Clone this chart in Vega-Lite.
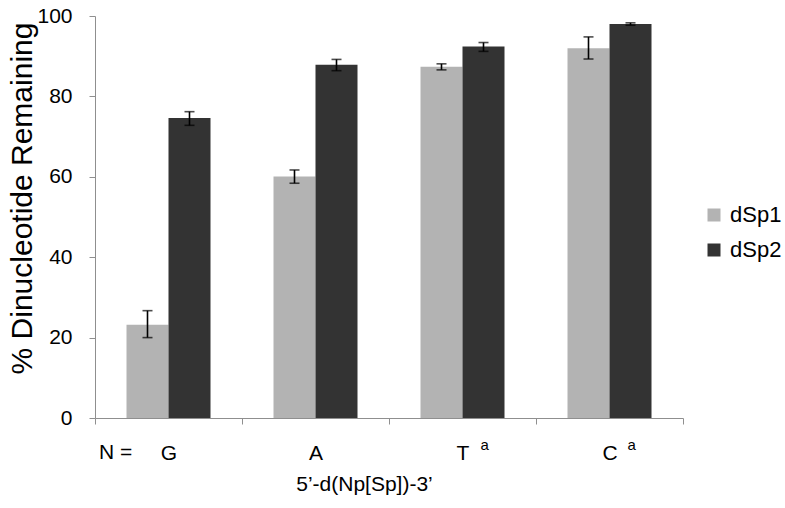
{
  "$schema": "https://vega.github.io/schema/vega-lite/v6.json",
  "width": 588,
  "height": 402,
  "autosize": {"type": "none"},
  "padding": {"left": 95, "top": 16, "right": 102, "bottom": 90},
  "background": "white",
  "config": {
    "font": "Liberation Sans",
    "view": {"stroke": null},
    "axis": {"labelFont": "Liberation Sans", "titleFont": "Liberation Sans"}
  },
  "datasets": {
    "bars": [
      {"N": "G", "series": "dSp1", "value": 23.2, "lo": 20.0, "hi": 26.7},
      {"N": "G", "series": "dSp2", "value": 74.6, "lo": 72.8, "hi": 76.2},
      {"N": "A", "series": "dSp1", "value": 60.1, "lo": 58.4, "hi": 61.7},
      {"N": "A", "series": "dSp2", "value": 87.9, "lo": 86.4, "hi": 89.2},
      {"N": "T", "series": "dSp1", "value": 87.4, "lo": 86.6, "hi": 88.1},
      {"N": "T", "series": "dSp2", "value": 92.4, "lo": 91.2, "hi": 93.4},
      {"N": "C", "series": "dSp1", "value": 92.0, "lo": 89.3, "hi": 94.8},
      {"N": "C", "series": "dSp2", "value": 98.0, "lo": 97.7, "hi": 98.3}
    ],
    "notes": [
      {"N": "T", "sup": "a"},
      {"N": "C", "sup": "a"}
    ],
    "prefix": [
      {"N": "G", "label": "N ="}
    ]
  },
  "layer": [
    {
      "data": {"name": "bars"},
      "mark": {"type": "bar"},
      "encoding": {
        "x": {
          "field": "N", "type": "nominal", "sort": ["G", "A", "T", "C"],
          "scale": {"paddingInner": 0, "paddingOuter": 0},
          "axis": {
            "title": "5’-d(Np[Sp])-3’",
            "labelAngle": 0,
            "tickBand": "extent",
            "domainColor": "#8f8f8f",
            "tickColor": "#8f8f8f",
            "tickSize": 6,
            "labelFontSize": 21,
            "labelColor": "#000000",
            "labelPadding": 18,
            "labelDx": 6,
            "titleFontSize": 21,
            "titleFontWeight": "normal",
            "titleColor": "#000000",
            "titleX": 269,
            "titleY": 55,
            "titleBaseline": "top",
            "titleAlign": "center"
          }
        },
        "xOffset": {
          "field": "series", "type": "nominal",
          "scale": {"paddingInner": 0, "paddingOuter": 0.75}
        },
        "y": {
          "field": "value", "type": "quantitative",
          "scale": {"domain": [0, 100], "nice": false},
          "axis": {
            "title": "% Dinucleotide Remaining",
            "values": [0, 20, 40, 60, 80, 100],
            "grid": false,
            "domainColor": "#8f8f8f",
            "tickColor": "#8f8f8f",
            "tickSize": 6,
            "labelFontSize": 21,
            "labelColor": "#000000",
            "labelPadding": 17,
            "labelDy": 2,
            "titleFontSize": 30,
            "titleFontWeight": "normal",
            "titleColor": "#000000",
            "titleX": -64,
            "titleY": 182,
            "titleBaseline": "alphabetic",
            "titleAlign": "center"
          }
        },
        "color": {
          "field": "series", "type": "nominal",
          "scale": {"domain": ["dSp1", "dSp2"], "range": ["#b3b3b3", "#333333"]},
          "legend": {
            "title": null,
            "orient": "none",
            "legendX": 608,
            "legendY": 188,
            "symbolType": "square",
            "symbolSize": 169,
            "symbolStrokeWidth": 0,
            "labelFontSize": 22,
            "labelColor": "#000000",
            "labelOffset": 5,
            "rowPadding": 13
          }
        }
      }
    },
    {
      "data": {"name": "bars"},
      "mark": {"type": "rule", "color": "#000000", "strokeWidth": 1.6},
      "encoding": {
        "x": {"field": "N", "type": "nominal", "sort": ["G", "A", "T", "C"]},
        "xOffset": {"field": "series", "type": "nominal"},
        "y": {"field": "lo", "type": "quantitative"},
        "y2": {"field": "hi"}
      }
    },
    {
      "data": {"name": "bars"},
      "mark": {"type": "tick", "color": "#000000", "size": 10, "thickness": 1.6, "orient": "horizontal"},
      "encoding": {
        "x": {"field": "N", "type": "nominal", "sort": ["G", "A", "T", "C"]},
        "xOffset": {"field": "series", "type": "nominal"},
        "y": {"field": "lo", "type": "quantitative"}
      }
    },
    {
      "data": {"name": "bars"},
      "mark": {"type": "tick", "color": "#000000", "size": 10, "thickness": 1.6, "orient": "horizontal"},
      "encoding": {
        "x": {"field": "N", "type": "nominal", "sort": ["G", "A", "T", "C"]},
        "xOffset": {"field": "series", "type": "nominal"},
        "y": {"field": "hi", "type": "quantitative"}
      }
    },
    {
      "data": {"name": "notes"},
      "mark": {"type": "text", "fontSize": 15, "align": "left", "baseline": "alphabetic", "dx": 18, "color": "#000000"},
      "encoding": {
        "x": {"field": "N", "type": "nominal", "sort": ["G", "A", "T", "C"]},
        "y": {"datum": -7.9, "type": "quantitative"},
        "text": {"field": "sup"}
      }
    },
    {
      "data": {"name": "prefix"},
      "mark": {"type": "text", "fontSize": 21, "align": "center", "baseline": "alphabetic", "dx": -53, "color": "#000000"},
      "encoding": {
        "x": {"field": "N", "type": "nominal", "sort": ["G", "A", "T", "C"]},
        "y": {"datum": -10.1, "type": "quantitative"},
        "text": {"field": "label"}
      }
    }
  ]
}
